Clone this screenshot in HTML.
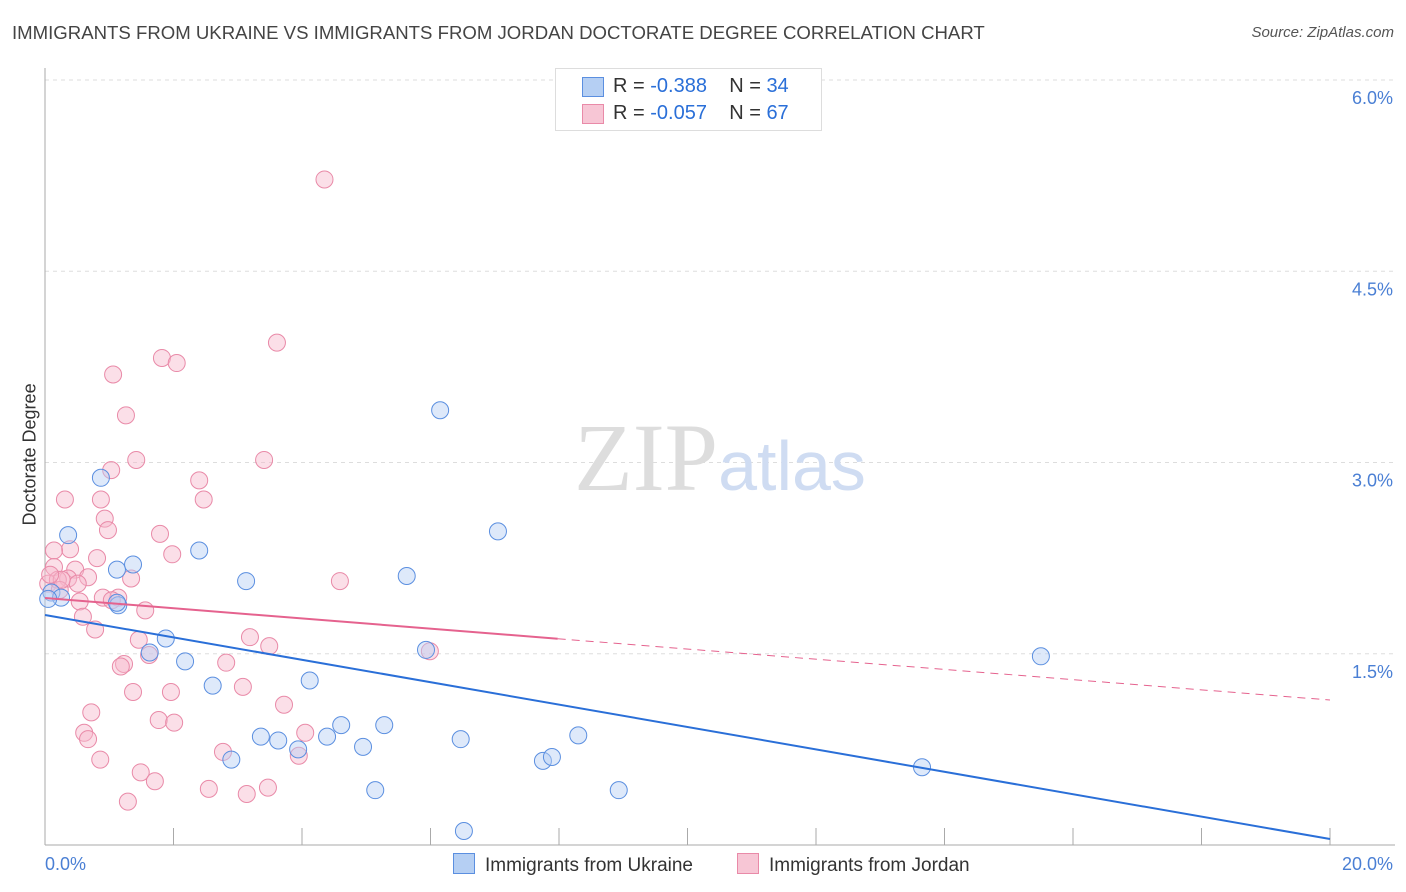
<!DOCTYPE html>
<html><head><meta charset="utf-8"><style>
body{margin:0;background:#fff;font-family:"Liberation Sans",sans-serif;}
#wrap{position:relative;width:1406px;height:892px;overflow:hidden}
.t{position:absolute;white-space:nowrap}
</style></head><body>
<div id="wrap">
<div class="t" style="left:12px;top:22px;font-size:18.6px;color:#444">IMMIGRANTS FROM UKRAINE VS IMMIGRANTS FROM JORDAN DOCTORATE DEGREE CORRELATION CHART</div>
<div class="t" style="right:12px;top:24px;font-size:15px;color:#555;font-style:italic">Source: ZipAtlas.com</div>
<div class="t" style="left:-40px;top:445px;font-size:18px;color:#333;transform:rotate(-90deg);width:140px;text-align:center">Doctorate Degree</div>
<svg id="svg" width="1406" height="892" style="position:absolute;left:0;top:0"></svg>
</div>
<script>
const ukraineX=[0.87,0.36,1.12,1.37,2.40,3.13,5.63,7.05,6.15,1.14,1.88,1.63,2.18,2.61,4.12,3.36,3.63,3.94,4.39,4.61,4.95,5.28,5.14,5.93,6.47,6.52,7.75,7.89,8.30,8.93,15.5,13.65,0.1,0.25,0.05,2.9,1.12];
const ukraineY=[2.88,2.43,2.16,2.20,2.31,2.07,2.11,2.46,3.41,1.88,1.62,1.51,1.44,1.25,1.29,0.85,0.82,0.75,0.85,0.94,0.77,0.94,0.43,1.53,0.83,0.11,0.66,0.69,0.86,0.43,1.48,0.61,1.98,1.94,1.93,0.67,1.90];
const jordanX=[4.35,3.61,1.82,2.05,1.06,1.26,1.42,3.41,1.03,2.4,0.31,0.87,2.47,0.93,0.98,1.79,0.39,0.14,0.81,1.98,0.14,0.47,0.67,1.34,4.59,0.36,0.51,0.05,0.2,1.14,0.9,0.54,1.56,0.59,0.78,1.46,3.19,3.49,5.99,1.62,1.23,1.18,2.82,1.37,1.96,3.08,3.72,0.72,1.77,2.01,0.61,0.67,4.05,2.77,3.95,0.86,1.49,1.71,2.55,3.47,3.14,1.29,0.23,0.26,0.08,1.04];
const jordanY=[5.22,3.94,3.82,3.78,3.69,3.37,3.02,3.02,2.94,2.86,2.71,2.71,2.71,2.56,2.47,2.44,2.32,2.31,2.25,2.28,2.18,2.16,2.1,2.09,2.07,2.09,2.05,2.05,2.08,1.94,1.94,1.91,1.84,1.79,1.69,1.61,1.63,1.56,1.52,1.49,1.42,1.4,1.43,1.2,1.2,1.24,1.1,1.04,0.98,0.96,0.88,0.83,0.88,0.73,0.7,0.67,0.57,0.5,0.44,0.45,0.4,0.34,2.0,2.08,2.12,1.92];
const yTicks=[1.5,3.0,4.5,6.0];
const xTicks=[0,2,4,6,8,10,12,14,16,18,20];
const blueLine=[1.804,0.047];
const pinkLine=[1.937,1.137];
const pinkSolidEnd=7.98;
const X0=45,X1=1330,YB=845,PY=127.5;
const sx=v=>X0+(X1-X0)*v/20, sy=v=>YB-v*PY;
const svg=document.getElementById('svg');const NS='http://www.w3.org/2000/svg';
function mk(tag,a,parent){const e=document.createElementNS(NS,tag);for(const k in a)e.setAttribute(k,a[k]);(parent||svg).appendChild(e);return e;}
yTicks.forEach(v=>{
 const g=mk('line',{x1:X0,x2:1395,y1:sy(v),y2:sy(v),stroke:'#ddd','stroke-dasharray':'4,4'});
 
 
 const t=mk('text',{x:1393,y:sy(v)+24,'text-anchor':'end','font-size':18,fill:'#4a7fd4','font-family':'Liberation Sans'});t.textContent=v.toFixed(1)+'%';
 
 
});
const ax=mk('line',{x1:X0,x2:X0,y1:68,y2:YB,stroke:'#aaa'});


const bx=mk('line',{x1:X0,x2:1395,y1:YB,y2:YB,stroke:'#aaa'});


xTicks.forEach(v=>{const l=mk('line',{x1:sx(v),x2:sx(v),y1:828,y2:YB,stroke:'#aaa'});
 
 });
[[0,'0.0%',45,'start'],[20,'20.0%',1393,'end']].forEach(d=>{const t=mk('text',{x:d[2],y:870,'text-anchor':d[3],'font-size':18,fill:'#4a7fd4','font-family':'Liberation Sans'});t.textContent=d[1];
 
 });
const wm=mk('text',{x:720,y:490,'text-anchor':'middle','font-size':96,'font-family':'Liberation Serif',fill:'#ddd'});


wm.innerHTML='ZIP<tspan font-family="Liberation Sans" font-size="70" fill="#cfdcf2">atlas</tspan>';
function pts(xs,ys,fill,stroke,name){xs.forEach((x,i)=>{const c=mk('circle',{cx:sx(x),cy:sy(ys[i]),r:8.5,fill:fill,stroke:stroke,'stroke-width':1,'fill-opacity':0.45});
 
 });}
pts(jordanX,jordanY,'#f7b8cb','#e98aa8','jordan-point');
pts(ukraineX,ukraineY,'#b5cff3','#5b8fe0','ukraine-point');
const bl=mk('line',{x1:sx(0),y1:sy(blueLine[0]),x2:sx(20),y2:sy(blueLine[1]),stroke:'#2a6fd8','stroke-width':2});


const pyAt=v=>pinkLine[0]+(pinkLine[1]-pinkLine[0])*v/20;
const pl=mk('line',{x1:sx(0),y1:sy(pinkLine[0]),x2:sx(pinkSolidEnd),y2:sy(pyAt(pinkSolidEnd)),stroke:'#e5628e','stroke-width':2});


const pd=mk('line',{x1:sx(pinkSolidEnd),y1:sy(pyAt(pinkSolidEnd)),x2:sx(20),y2:sy(pinkLine[1]),stroke:'#e5628e','stroke-width':1,'stroke-dasharray':'8,6'});


</script>
<div class="t" style="left:555px;top:68px;width:265px;height:61px;border:1px solid #ddd;background:#fff;font-size:20px;color:#333">
 <div style="position:absolute;left:26px;top:8px;width:20px;height:18px;background:#b5cff3;border:1px solid #5b8fe0"></div>
 <div style="position:absolute;left:57px;top:6px">R = <span style="color:#2a6fd8">-0.388</span>&nbsp;&nbsp;&nbsp; N = <span style="color:#2a6fd8">34</span></div>
 <div style="position:absolute;left:26px;top:35px;width:20px;height:18px;background:#f7c6d5;border:1px solid #e98aa8"></div>
 <div style="position:absolute;left:57px;top:33px">R = <span style="color:#2a6fd8">-0.057</span>&nbsp;&nbsp;&nbsp; N = <span style="color:#2a6fd8">67</span></div>
</div>
<div class="t" style="left:453px;top:853px;font-size:19px;color:#333"><span style="display:inline-block;width:20px;height:19px;background:#b5cff3;border:1px solid #5b8fe0;vertical-align:-3px;margin-right:10px"></span>Immigrants from Ukraine</div>
<div class="t" style="left:737px;top:853px;font-size:19px;color:#333"><span style="display:inline-block;width:20px;height:19px;background:#f7c6d5;border:1px solid #e98aa8;vertical-align:-3px;margin-right:10px"></span>Immigrants from Jordan</div>
</body></html>
